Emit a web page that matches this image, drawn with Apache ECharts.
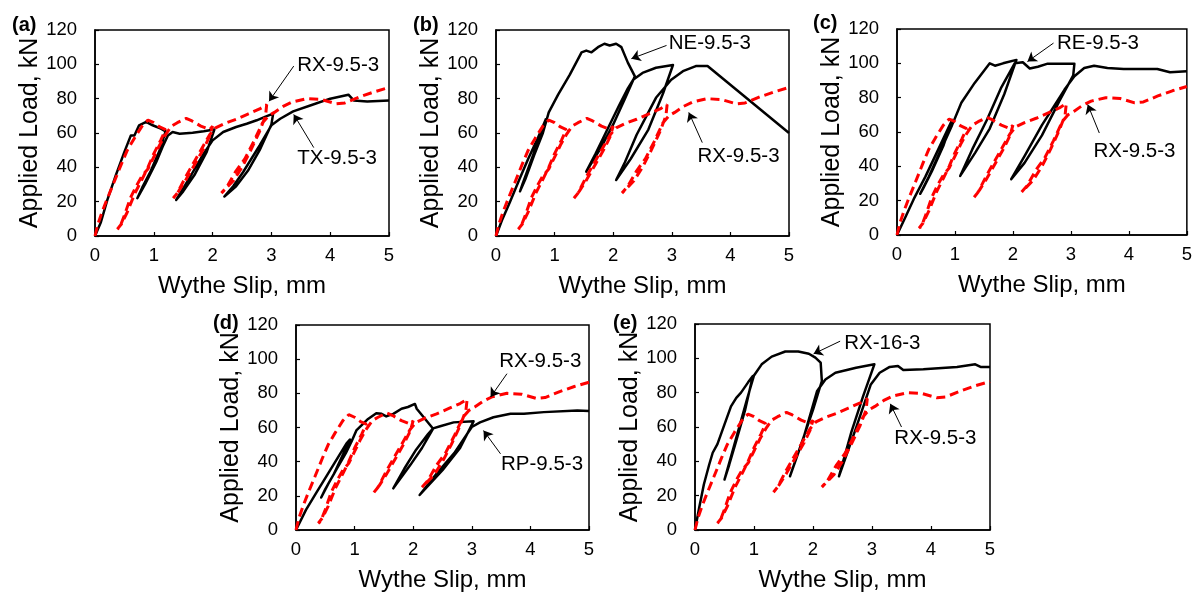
<!DOCTYPE html>
<html><head><meta charset="utf-8">
<script src="https://cdn.jsdelivr.net/npm/echarts@6/dist/echarts.min.js"></script>
<style>html,body{margin:0;padding:0;background:#fff}#c{width:1195px;height:594px}</style>
</head><body><div id="c"></div>
<script>
// ---- Data (Wythe slip in mm, applied load in kN) ----
const rx95 = [[0,0],[0.05,7],[0.12,14],[0.2,21],[0.32,31],[0.45,42],[0.55,50],[0.67,57],[0.8,64],[0.9,67.5],[1.0,66],[1.1,63.5],[1.2,62],
 [1.12,56],[1.0,48],[0.9,40],[0.8,33],[0.68,25],[0.55,14],[0.45,7],[0.38,4],
 [0.42,5],[0.5,12],[0.6,22],[0.7,29],[0.8,35],[0.9,39],[1.0,46],[1.1,53],[1.2,59],[1.3,64],[1.4,66],[1.55,68.5],[1.65,67],[1.8,64],[1.95,62],[2.0,64],
 [1.95,58],[1.85,51],[1.7,42],[1.55,33],[1.42,26],[1.33,22],
 [1.4,25],[1.55,35],[1.7,44],[1.85,53],[1.95,59],[2.05,63],[2.2,65.5],[2.4,68],[2.6,71],[2.8,74],[2.92,76.5],
 [2.9,70],[2.8,61],[2.65,50],[2.5,40],[2.35,32],[2.15,25],
 [2.25,29],[2.4,38],[2.55,45],[2.7,55],[2.85,66],[2.95,70],[3.05,72],[3.2,75.5],[3.35,78],[3.6,80],[3.85,79.5],[4.1,77],[4.25,77.5],[4.5,81],[4.75,84],[5,86.5]];

const tx95 = [[0,0],[0.1,8],[0.21,21],[0.35,35],[0.5,49],[0.61,58.6],[0.67,58.6],[0.75,64.5],[0.87,66.5],[0.98,64.5],[1.12,62.5],[1.2,61],
 [1.1,50],[0.95,38],[0.8,28],[0.72,22],
 [0.85,30],[1.04,43],[1.15,52],[1.24,58.6],[1.32,60.6],[1.44,59.6],[1.66,60.2],[1.85,61],[2.03,62],
 [1.9,49],[1.7,36],[1.5,26],[1.38,21],
 [1.6,33.4],[1.83,47],[2.0,55.7],[2.18,60.6],[2.4,63.5],[2.58,65.4],[2.75,67.4],[2.9,69.5],[3.03,71.3],
 [3.0,65],[2.8,50],[2.6,38],[2.4,29],[2.2,23],
 [2.35,29],[2.52,37.3],[2.8,52.8],[3.0,64.5],[3.15,68.3],[3.37,72.6],[3.66,76],[4.0,80],[4.31,82.3],[4.4,79],[4.63,78.4],[5,79]];

const ne95 = [[0,0],[0.1,9],[0.24,20],[0.4,33],[0.55,45],[0.7,56],[0.85,68],
 [0.75,58],[0.6,44],[0.45,30],[0.41,26],
 [0.5,33],[0.65,47],[0.8,60],[0.9,72],[1.06,82.4],[1.26,94],[1.46,107],[1.54,108],[1.63,107],[1.74,110],[1.85,112],[1.94,111],[2.05,112],[2.14,110],[2.25,101],[2.37,93],
 [2.2,80],[2.0,65],[1.8,52],[1.54,37.5],
 [1.7,48],[1.9,62],[2.1,76],[2.25,86],[2.34,91],[2.5,95],[2.73,98],[3.02,99.6],
 [2.85,83],[2.6,62],[2.3,45],[2.05,32.6],
 [2.2,43],[2.4,59],[2.6,72],[2.73,80.5],[2.99,91],[3.19,96],[3.41,99],[3.61,99],[5,60]];

const re95 = [[0,0],[0.14,10],[0.29,21],[0.49,34],[0.7,49],[0.95,67],
 [0.8,52],[0.6,37],[0.45,27],[0.4,24],
 [0.55,34],[0.75,49],[0.95,64],[1.11,77],[1.34,88.6],[1.6,100],[1.69,98.6],[1.83,100],[2.06,102],
 [1.85,82],[1.6,62],[1.35,48],[1.09,34.4],
 [1.3,50],[1.55,67],[1.8,86],[2.03,100],[2.17,100.6],[2.29,97],[2.43,98],[2.6,99.8],[3.06,99.8],[3.04,93],
 [2.8,78],[2.5,58],[2.2,42],[1.97,32.5],
 [2.2,46],[2.5,64],[2.89,84.7],[3.06,92.5],[3.23,97.3],[3.4,98.6],[3.63,97.3],[3.91,96.7],[4.49,96.7],[4.71,94.8],[5,95.4]];

const rp95 = [[0,0],[0.17,11.8],[0.34,21.5],[0.51,31],[0.69,41],[0.86,50.6],[0.92,53],
 [0.8,44],[0.65,33],[0.5,24],[0.43,19],
 [0.55,27],[0.7,36],[0.85,45],[0.95,52],[1.03,58.3],[1.23,65],[1.37,68.4],[1.46,68],[1.54,66.5],[1.66,68],[1.8,71],[1.91,72],[2.03,73.8],[2.06,71],[2.34,59.3],
 [2.15,48],[1.95,38],[1.66,24.4],
 [1.85,36],[2.05,47],[2.25,56],[2.34,59.5],[2.46,60.7],[2.69,63],[3.03,63.6],
 [2.8,48],[2.5,35],[2.11,20.5],
 [2.4,33],[2.7,45],[3.0,60.3],[3.14,63],[3.37,66],[3.66,68],[3.89,68],[4.23,69],[4.8,70],[5,69.6]];

const rx163 = [[0,0],[0.07,12.8],[0.15,26.5],[0.24,38],[0.3,45],[0.38,50],[0.5,61.5],[0.61,72],[0.7,77],[0.78,80],[0.9,86],[0.98,89.7],
 [0.85,70],[0.7,52],[0.58,38],[0.5,29.4],
 [0.62,44],[0.75,60],[0.88,76],[1.0,90],[1.13,96.5],[1.3,101],[1.53,104],[1.75,104],[1.93,102.7],[2.04,100.4],[2.13,97.5],[2.15,86.8],
 [2.0,70],[1.85,55],[1.61,31.3],
 [1.84,53.7],[1.96,68],[2.07,81],[2.21,87.7],[2.38,91.6],[2.73,94.5],[3.04,96.5],
 [2.85,78],[2.65,57],[2.44,31.3],
 [2.73,59.5],[2.98,84.8],[3.13,91.6],[3.3,95],[3.44,95.5],[3.53,93.2],[3.87,93.6],[4.44,95],[4.75,96.5],[4.84,95],[5,95]];

// annotations: label anchor, arrow tail, arrow head (data coordinates)
const notesA = [{text:'RX-9.5-3', at:[3.43,99.4], tail:[3.38,99], head:[2.96,78.5]},
                {text:'TX-9.5-3', at:[3.43,45.1], tail:[3.72,51.5], head:[3.38,70.8]}];
const notesB = [{text:'NE-9.5-3', at:[2.94,112], tail:[2.91,111], head:[2.31,103.3]},
                {text:'RX-9.5-3', at:[3.43,46.6], tail:[3.52,54.4], head:[3.29,72]}];
const notesC = [{text:'RE-9.5-3', at:[2.75,111.8], tail:[2.7,111.8], head:[2.25,101]},
                {text:'RX-9.5-3', at:[3.38,48.7], tail:[3.49,59.4], head:[3.29,76]}];
const notesD = [{text:'RX-9.5-3', at:[3.46,98.9], tail:[3.6,91.5], head:[3.32,77.8]},
                {text:'RP-9.5-3', at:[3.49,38.3], tail:[3.49,44.6], head:[3.2,58.2]}];
const notesE = [{text:'RX-16-3', at:[2.52,109], tail:[2.46,110], head:[2.01,102.6]},
                {text:'RX-9.5-3', at:[3.37,53.2], tail:[3.5,60], head:[3.31,73.5]}];

const panelLetters = ['(a)','(b)','(c)','(d)','(e)'];
const xTitle = 'Wythe Slip, mm';
const yTitle = 'Applied Load, kN';

// ---- Layout ----
const boxes = [
  {left:95, top:30, width:294, height:206},
  {left:496, top:30, width:293, height:206},
  {left:897, top:29, width:293, height:206},
  {left:296, top:325, width:293, height:205},
  {left:695, top:324, width:295, height:206}
];
const letterPos = [[12,27],[413,27],[813,25],[213,325],[613,325]];
const blacks = [tx95, ne95, re95, rp95, rx163];
const notes = [notesA, notesB, notesC, notesD, notesE];

const FONT = 'Liberation Sans, Arial, sans-serif';
const chart = echarts.init(document.getElementById('c'));
const option = {
  backgroundColor:'#fff', animation:false,
  grid: boxes.map(b => Object.assign({show:true, borderColor:'#000', borderWidth:1.5, backgroundColor:'transparent'}, b)),
  xAxis: boxes.map((b,i)=>({
    gridIndex:i, type:'value', min:0, max:5, interval:1,
    axisLine:{show:true, lineStyle:{color:'#000', width:1.5}},
    axisTick:{show:true, inside:true, length:4, lineStyle:{color:'#000', width:1.2}},
    splitLine:{show:false},
    axisLabel:{color:'#000', fontSize:18.5, fontFamily:FONT, margin:10},
    name:xTitle, nameLocation:'middle', nameGap:38,
    nameTextStyle:{color:'#000', fontSize:24, fontFamily:FONT}
  })),
  yAxis: boxes.map((b,i)=>({
    gridIndex:i, type:'value', min:0, max:120, interval:20,
    axisLine:{show:true, lineStyle:{color:'#000', width:1.5}},
    axisTick:{show:true, inside:true, length:4, lineStyle:{color:'#000', width:1.2}},
    splitLine:{show:false},
    axisLabel:{color:'#000', fontSize:18.5, fontFamily:FONT, margin:18},
    name:yTitle, nameLocation:'middle', nameGap:52,
    nameTextStyle:{color:'#000', fontSize:25, fontFamily:FONT}
  })),
  series: [],
  graphic: letterPos.map((p,i)=>({type:'text', left:p[0], top:p[1]-12,
    style:{text:panelLetters[i], fill:'#000', font:'bold 20px '+FONT}}))
};
boxes.forEach((b,i)=>{
  option.series.push({type:'line', xAxisIndex:i, yAxisIndex:i, data:blacks[i], symbol:'none',
    lineStyle:{color:'#000', width:2.5, join:'round'}, z:3});
  option.series.push({type:'line', xAxisIndex:i, yAxisIndex:i, data:rx95, symbol:'none',
    lineStyle:{color:'#ff0000', width:3, type:[9,5]}, z:4});
  option.series.push({type:'scatter', xAxisIndex:i, yAxisIndex:i, symbolSize:1,
    itemStyle:{color:'transparent'}, z:5, silent:true,
    data: notes[i].map(n=>({value:n.at, label:{show:true, formatter:n.text, position:'right', distance:0,
      color:'#000', opacity:1, fontSize:20.5, fontFamily:FONT}})),
    markLine:{silent:true, symbol:['none','arrow'], symbolSize:9, animation:false,
      label:{show:false}, lineStyle:{color:'#000', width:1, type:'solid'},
      data: notes[i].map(n=>[{coord:n.tail},{coord:n.head}])}
  });
});
chart.setOption(option);
</script></body></html>
